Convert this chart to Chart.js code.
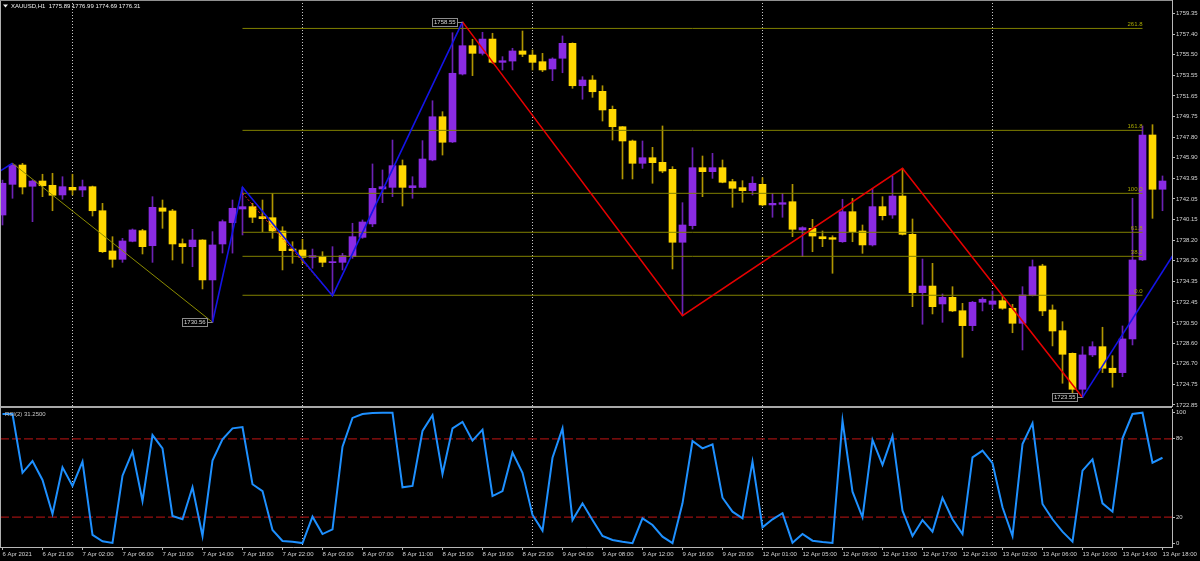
<!DOCTYPE html>
<html>
<head>
<meta charset="UTF-8">
<title>XAUUSD,H1</title>
<script src="https://cdn.jsdelivr.net/npm/chart.js"></script>
<style>
  body { margin: 0; background: #000; width: 1200px; height: 561px; overflow: hidden; position: relative; }
  canvas { position: absolute; left: 0; }
  #main { top: 0; }
  #rsi { top: 408px; }
  .rule { position: absolute; }
</style>
</head>
<body>
<canvas id="main" width="1200" height="410"></canvas>
<canvas id="rsi" width="1200" height="153"></canvas>
<div class="rule" style="left:0;top:406px;width:1172px;height:2px;background:#a8a8a8"></div>
<div class="rule" style="left:0;top:0;width:1px;height:547px;background:#b0b0b0"></div>
<div class="rule" style="left:0;top:0;width:1172px;height:1px;background:#909090"></div>
<script>
// ---- data (H1 bars, 6 Apr 2021 17:00 .. 13 Apr 18:00) ----
const opens = [1740.55,1743.41,1745.21,1743.23,1743.72,1743.32,1742.42,1743.13,1742.88,1743.19,
  1740.95,1737.20,1736.42,1738.10,1739.09,1737.69,1741.21,1740.93,1737.88,1737.60,
  1738.22,1734.50,1737.85,1739.84,1741.11,1741.33,1740.40,1740.30,1739.06,1737.38,
  1737.29,1736.61,1736.67,1736.11,1736.14,1736.67,1738.47,1739.72,1742.98,1743.13,
  1745.15,1743.10,1743.13,1745.68,1749.71,1747.36,1753.69,1756.33,1755.62,1756.95,
  1754.78,1754.90,1755.84,1755.46,1754.84,1754.16,1755.16,1756.55,1752.60,1753.13,
  1752.08,1750.40,1748.78,1747.45,1745.37,1745.89,1745.46,1744.81,1738.01,1739.56,
  1744.96,1744.59,1744.96,1743.66,1743.10,1742.82,1743.41,1741.49,1741.55,1741.79,
  1739.16,1739.31,1738.53,1738.44,1738.06,1740.86,1739.06,1737.76,1741.33,1740.55,
  1742.32,1738.75,1733.31,1733.93,1732.26,1732.88,1731.63,1730.24,1732.42,1732.23,
  1732.57,1731.86,1730.46,1733.03,1735.80,1731.70,1729.77,1727.66,1724.31,1727.51,
  1728.28,1726.27,1725.86,1729.00,1736.36,1748.01,1742.95];
const highs = [1743.80,1745.37,1745.37,1743.81,1744.35,1744.44,1744.12,1744.35,1743.81,1743.25,
  1741.64,1738.53,1738.38,1739.25,1739.22,1742.26,1741.95,1741.08,1738.32,1739.22,
  1738.25,1739.00,1740.09,1741.95,1743.13,1741.64,1741.95,1742.57,1739.46,1738.06,
  1738.29,1737.38,1737.13,1737.60,1736.98,1739.78,1740.09,1745.31,1744.75,1747.54,
  1745.68,1744.12,1747.48,1751.20,1750.18,1757.54,1758.55,1756.93,1757.58,1757.49,
  1755.31,1756.09,1757.70,1755.93,1755.62,1755.20,1757.24,1756.60,1753.44,1753.54,
  1752.60,1750.71,1748.80,1747.54,1747.45,1746.86,1748.85,1745.06,1741.70,1746.82,
  1746.05,1746.30,1745.68,1743.88,1743.75,1744.12,1744.03,1742.57,1742.57,1743.41,
  1739.46,1740.15,1739.06,1738.62,1742.02,1742.11,1739.62,1743.04,1742.26,1744.19,
  1744.90,1740.18,1736.45,1736.05,1733.19,1733.87,1732.32,1732.50,1732.85,1733.47,
  1733.00,1732.23,1733.87,1736.36,1735.96,1732.17,1730.61,1727.70,1728.28,1728.74,
  1730.09,1727.44,1730.21,1742.11,1748.85,1748.97,1744.19];
const lows = [1739.62,1742.11,1742.51,1739.93,1742.26,1740.95,1742.02,1742.42,1742.26,1740.46,
  1737.05,1735.68,1736.14,1738.05,1736.92,1736.14,1739.31,1736.36,1736.05,1735.73,
  1733.66,1730.56,1737.01,1737.00,1738.69,1739.84,1739.00,1738.38,1735.43,1736.05,
  1736.05,1735.59,1735.73,1733.03,1735.43,1736.51,1738.38,1739.46,1741.70,1742.26,
  1741.39,1742.11,1743.10,1745.60,1746.14,1747.30,1753.60,1753.54,1755.46,1754.69,
  1754.07,1754.07,1755.31,1754.07,1753.91,1753.07,1753.81,1752.36,1751.34,1751.52,
  1749.31,1747.54,1743.91,1743.91,1744.90,1743.51,1744.49,1735.52,1731.17,1739.25,
  1742.26,1743.97,1743.55,1741.27,1741.74,1742.42,1741.40,1740.34,1740.34,1738.53,
  1736.67,1737.13,1737.60,1735.12,1738.00,1738.06,1736.98,1737.66,1740.09,1740.24,
  1738.69,1732.01,1730.37,1731.33,1730.55,1731.54,1727.29,1729.77,1731.61,1731.79,
  1731.76,1729.58,1727.97,1733.00,1731.17,1728.35,1724.87,1723.78,1723.55,1727.35,
  1725.86,1724.50,1725.48,1728.44,1736.30,1740.24,1740.95];
const closes = [1743.51,1745.21,1743.16,1743.72,1743.28,1742.39,1743.19,1742.88,1743.19,1740.95,
  1737.13,1736.42,1738.13,1739.16,1737.60,1741.27,1740.90,1737.85,1737.60,1738.22,
  1734.50,1737.76,1739.93,1741.18,1741.33,1740.34,1740.21,1739.06,1737.23,1737.23,
  1736.61,1736.76,1736.14,1736.20,1736.76,1738.53,1739.90,1743.04,1743.19,1745.15,
  1743.13,1743.28,1745.77,1749.71,1747.33,1753.76,1756.33,1755.62,1756.95,1754.78,
  1754.93,1755.84,1755.53,1754.78,1754.07,1755.09,1756.55,1752.60,1753.13,1752.04,
  1750.34,1748.78,1747.45,1745.37,1745.89,1745.43,1744.65,1738.01,1739.62,1744.96,
  1744.59,1744.96,1743.60,1743.04,1742.82,1743.51,1741.49,1741.64,1741.70,1739.22,
  1739.37,1738.59,1738.34,1738.29,1740.86,1738.99,1737.76,1741.33,1740.49,1742.32,
  1738.75,1733.31,1733.93,1732.01,1732.88,1731.61,1730.24,1732.42,1732.70,1732.54,
  1731.86,1730.46,1733.10,1735.73,1731.61,1729.74,1727.57,1724.31,1727.51,1728.28,
  1726.27,1725.86,1729.00,1736.36,1748.01,1742.95,1743.72];
const rsiValues = [99,99,54,63,48.5,22.4,58.2,43.9,62.5,6.4,
  1.5,0.3,51.8,70.2,32.4,82.9,72.7,20.9,18.4,42.9,
  5.6,63.3,79.6,88,89,45.2,40,10.2,1.8,1.2,
  0.2,20.4,7.1,10.7,74,96,99,99.8,100,100,
  42.9,43.9,86,98,53,88,93,78.6,87,36.2,
  40,69.4,54,21.7,9.7,65.5,88,17.8,30.6,17.8,
  5.6,2.5,1.2,0.1,19.1,14,5.1,0.1,30.6,78.3,
  72.7,75.8,34.9,24.2,19.1,62.5,12.2,18.4,23,0.5,
  7.1,2,1,0.3,94,39.5,19.9,79.1,60,82.2,
  25,5.6,17.8,8.9,34.9,18.4,7.1,65.8,70.9,61.3,
  27.6,5.6,76,92,30.1,18.4,8.9,1.2,55.6,64.3,
  30.6,24.2,80.4,99,100,61.7,65.5];

// zigzag turning points (bar index, price) and colour of the leg that leaves each point
const zigIdx   = [-1, 1, 21, 24, 33, 46, 68, 90, 108, 117];
const zigPrice = [1744.2, 1745.37, 1730.56, 1743.13, 1733.03, 1758.55, 1731.17, 1744.90, 1723.55, 1736.73];
const zigLeg   = ['#1414e6', '#8c8c00', '#1414e6', '#1414e6', '#1414e6', '#e60000', '#e60000', '#e60000', '#1414e6'];

// price boxes
const boxIdx   = [21, 46, 108];
const boxPrice = [1730.56, 1758.55, 1723.55];

// fibonacci retracement
const fibFrom = 24, fibTo = 114;
const fibPrices = [1733.07, 1736.70, 1738.94, 1742.57, 1748.44, 1757.94];
const fibLabels = ['0.0', '38.2', '61.8', '100.0', '161.8', '261.8'];
const fibBaseIdx = [24, 33];
const fibBasePrice = [1742.57, 1733.07];

// axes
const priceTicks = [1759.35,1757.40,1755.50,1753.55,1751.65,1749.75,1747.80,1745.90,1743.95,1742.05,
  1740.15,1738.20,1736.30,1734.35,1732.45,1730.50,1728.60,1726.70,1724.75,1722.85];
const rsiTicks = [0, 20, 80, 100];
const rsiLevels = [20, 80];
const timeLabels = ['6 Apr 2021','6 Apr 21:00','7 Apr 02:00','7 Apr 06:00','7 Apr 10:00','7 Apr 14:00',
  '7 Apr 18:00','7 Apr 22:00','8 Apr 03:00','8 Apr 07:00','8 Apr 11:00','8 Apr 15:00','8 Apr 19:00',
  '8 Apr 23:00','9 Apr 04:00','9 Apr 08:00','9 Apr 12:00','9 Apr 16:00','9 Apr 20:00','12 Apr 01:00',
  '12 Apr 05:00','12 Apr 09:00','12 Apr 13:00','12 Apr 17:00','12 Apr 21:00','13 Apr 02:00',
  '13 Apr 06:00','13 Apr 10:00','13 Apr 14:00','13 Apr 18:00'];
const daySeparators = [7, 30, 53, 76, 99];

const X_MIN = -0.25, X_MAX = 116.95;
const P_MIN = 1722.75, P_MAX = 1760.59;
const R_MIN = -2.83, R_MAX = 102.83;

const BULL = '#8a2be2', BEAR = '#ffd700';
const BULL_WICK = '#6c22b4', BEAR_WICK = '#b09600';
const AXIS = '#b8b8b8', TXT = '#d4d4d4';
const FONT = '6px "Liberation Sans"';

Chart.defaults.font.family = '"Liberation Sans", Arial, sans-serif';
Chart.defaults.font.size = 6;

const isBull = opens.map((o, i) => closes[i] >= o);

const daySepPlugin = {
  id: 'daySep',
  beforeDatasetsDraw(chart) {
    const { ctx, chartArea: a, scales: { x } } = chart;
    ctx.save();
    ctx.strokeStyle = '#c8c8c8';
    ctx.lineWidth = 1;
    ctx.setLineDash([1, 2]);
    daySeparators.forEach(i => {
      const px = Math.floor(x.getPixelForValue(i)) + 0.5;
      ctx.beginPath(); ctx.moveTo(px, a.top); ctx.lineTo(px, a.bottom); ctx.stroke();
    });
    ctx.restore();
  }
};

const mainDeco = {
  id: 'mainDeco',
  afterDatasetsDraw(chart) {
    const { ctx, scales: { x, y } } = chart;
    ctx.save();
    ctx.font = FONT;
    // fib level labels
    ctx.fillStyle = '#a8a800';
    ctx.textAlign = 'right';
    ctx.textBaseline = 'bottom';
    fibPrices.forEach((p, k) => {
      ctx.fillText(fibLabels[k], x.getPixelForValue(fibTo), Math.round(y.getPixelForValue(p)) - 0.5);
    });
    // price boxes next to zigzag extremes
    ctx.textAlign = 'left';
    ctx.textBaseline = 'middle';
    boxIdx.forEach((i, k) => {
      const px = x.getPixelForValue(i), py = Math.round(y.getPixelForValue(boxPrice[k]));
      const t = boxPrice[k].toFixed(2);
      const w = Math.ceil(ctx.measureText(t).width) + 4;
      const bx = Math.round(px - 5 - w), by = py - 4;
      ctx.strokeStyle = '#8c8c8c';
      ctx.lineWidth = 1;
      ctx.beginPath(); ctx.moveTo(bx + w, py + 0.5); ctx.lineTo(px, py + 0.5); ctx.stroke();
      ctx.fillStyle = '#000';
      ctx.fillRect(bx, by, w, 9);
      ctx.strokeRect(bx + 0.5, by + 0.5, w - 1, 8);
      ctx.fillStyle = '#d8d8d8';
      ctx.fillText(t, bx + 2, py + 0.5);
    });
    ctx.restore();
  },
  afterDraw(chart) {
    const ctx = chart.ctx;
    ctx.save();
    ctx.fillStyle = '#f0f0f0';
    ctx.beginPath(); ctx.moveTo(3, 4.5); ctx.lineTo(8, 4.5); ctx.lineTo(5.5, 7.5); ctx.closePath(); ctx.fill();
    ctx.font = FONT;
    ctx.textBaseline = 'middle';
    ctx.fillText('XAUUSD,H1  1775.89 1776.99 1774.69 1776.31', 11, 6.5);
    ctx.restore();
  }
};

const rsiDeco = {
  id: 'rsiDeco',
  afterDraw(chart) {
    const ctx = chart.ctx;
    ctx.save();
    ctx.font = FONT;
    ctx.fillStyle = '#c8c8c8';
    ctx.textBaseline = 'middle';
    ctx.fillText('RSI(2) 31.2500', 5, 6.5);
    ctx.restore();
  }
};

const lineStyle = { type: 'line', pointRadius: 0, pointHoverRadius: 0, fill: false, tension: 0 };

new Chart(document.getElementById('main'), {
  type: 'bar',
  data: {
    datasets: [
      {
        label: 'wicks', order: 5, grouped: false, barThickness: 1,
        data: lows.map((l, i) => ({ x: i, y: [l, highs[i]] })),
        backgroundColor: isBull.map(b => b ? BULL_WICK : BEAR_WICK)
      },
      {
        label: 'bodies', order: 4, grouped: false, barThickness: 7, minBarLength: 1,
        data: opens.map((o, i) => ({ x: i, y: [o, closes[i]] })),
        backgroundColor: isBull.map(b => b ? BULL : BEAR)
      },
      ...fibPrices.map(p => ({
        ...lineStyle, order: 3, borderColor: '#808000', borderWidth: 1,
        data: [{ x: fibFrom, y: p }, { x: fibTo, y: p }]
      })),
      {
        ...lineStyle, order: 2, borderColor: '#ff2020', borderWidth: 1, borderDash: [2, 2],
        data: fibBaseIdx.map((i, k) => ({ x: i, y: fibBasePrice[k] }))
      },
      {
        ...lineStyle, order: 1, borderWidth: 1.6,
        data: zigIdx.map((i, k) => ({ x: i, y: zigPrice[k] })),
        borderColor: '#1414e6',
        segment: {
          borderColor: c => zigLeg[c.p0DataIndex],
          borderWidth: c => zigLeg[c.p0DataIndex] === '#8c8c00' ? 1 : 1.6
        }
      }
    ]
  },
  options: {
    responsive: false, animation: false, devicePixelRatio: 1,
    layout: { padding: { left: 0, right: 0, top: 0, bottom: 4 } },
    plugins: { legend: { display: false }, tooltip: { enabled: false } },
    scales: {
      x: { type: 'linear', min: X_MIN, max: X_MAX, offset: false, display: false, grid: { offset: false } },
      y: {
        position: 'right', min: P_MIN, max: P_MAX,
        afterBuildTicks: s => { s.ticks = priceTicks.map(v => ({ value: v })); },
        afterFit: s => { s.width = 28; s.paddingTop = 0; s.paddingBottom = 0; },
        ticks: { color: TXT, padding: 1, autoSkip: false, callback: v => v.toFixed(2) },
        grid: { drawOnChartArea: false, tickLength: 3, color: AXIS },
        border: { color: AXIS }
      }
    }
  },
  plugins: [daySepPlugin, mainDeco]
});

new Chart(document.getElementById('rsi'), {
  type: 'line',
  data: {
    datasets: [
      ...rsiLevels.map(v => ({
        ...lineStyle, borderColor: '#9a1010', borderWidth: 1.2, borderDash: [9, 3], order: 2,
        data: [{ x: X_MIN, y: v }, { x: X_MAX, y: v }]
      })),
      {
        ...lineStyle, borderColor: '#1e90ff', borderWidth: 2, order: 1,
        data: rsiValues.map((v, i) => ({ x: i, y: v }))
      }
    ]
  },
  options: {
    responsive: false, animation: false, devicePixelRatio: 1,
    layout: { padding: { left: 0, right: 0, top: 1, bottom: 0 } },
    plugins: { legend: { display: false }, tooltip: { enabled: false } },
    scales: {
      x: {
        type: 'linear', min: X_MIN, max: X_MAX, offset: false,
        afterBuildTicks: s => { s.ticks = timeLabels.map((_, k) => ({ value: k * 4 })); },
        afterFit: s => { s.height = 14; s.paddingLeft = 0; s.paddingRight = 0; },
        ticks: { color: TXT, align: 'start', maxRotation: 0, autoSkip: false, padding: 1,
                 callback: (v, k) => timeLabels[k] },
        grid: { drawOnChartArea: false, tickLength: 3, color: AXIS, offset: false },
        border: { color: AXIS }
      },
      y: {
        position: 'right', min: R_MIN, max: R_MAX,
        afterBuildTicks: s => { s.ticks = rsiTicks.map(v => ({ value: v })); },
        afterFit: s => { s.width = 28; s.paddingTop = 0; s.paddingBottom = 0; },
        ticks: { color: TXT, padding: 1, autoSkip: false, callback: v => String(v) },
        grid: { drawOnChartArea: false, tickLength: 3, color: AXIS },
        border: { color: AXIS }
      }
    }
  },
  plugins: [daySepPlugin, rsiDeco]
});
</script>
</body>
</html>
